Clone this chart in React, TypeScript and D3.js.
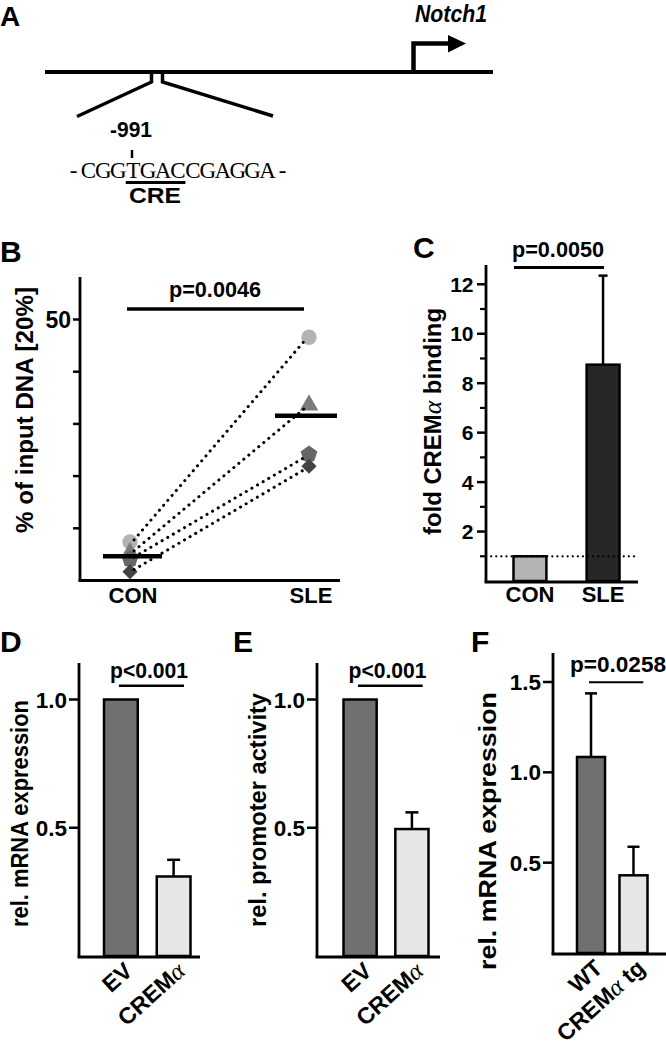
import React from "react";
import * as d3 from "d3";

const FONT = "'Liberation Sans', Arial, Helvetica, sans-serif";

// ---------- Panel A ----------
const geneName = "Notch1";
const siteLabel = "-991";
const sequence = "-CGGTGACCGAGGA-";
const creRange = [4, 8]; // TGAC
const creLabel = "CRE";

// ---------- Panel B ----------
const bGroups = ["CON", "SLE"];
const bShapes = ["circle", "triangle", "pentagon", "diamond"];
const bColors = ["#b3b3b3", "#7b7b7b", "#666666", "#434343"];
const bCon = [7.4, 5.3, 4.1, 1.7];
const bSle = [46.6, 33.6, 24.2, 21.9];
const bTicks = [10, 20, 30, 40, 50];
const bTickLabels = ["", "", "", "", "50"];
const bP = "p=0.0046";

// ---------- Panel C ----------
const cGroups = ["CON", "SLE"];
const cValues = [1.0, 8.75];
const cErrTop = [null, 12.35];
const cColors = ["#b4b4b4", "#272727"];
const cMajor = [2, 4, 6, 8, 10, 12];
const cMinor = [1, 3, 5, 7, 9, 11];
const cP = "p=0.0050";

// ---------- Panel D ----------
const dGroups = ["EV", "CREMα"];
const dValues = [1.0, 0.31];
const dErrTop = [null, 0.375];
// ---------- Panel E ----------
const eGroups = ["EV", "CREMα"];
const eValues = [1.0, 0.495];
const eErrTop = [null, 0.56];
// ---------- Panel F ----------
const fGroups = ["WT", "CREMα tg"];
const fValues = [1.085, 0.43];
const fErrTop = [1.437, 0.588];
const barColors = ["#707070", "#e6e6e6"];
const defTicks = [0.5, 1.0];
const defTickLabels = ["0.5", "1.0"];
const fTicks = [0.5, 1.0, 1.5];
const fTickLabels = ["0.5", "1.0", "1.5"];
const pSmall = "p<0.001";
const fP = "p=0.0258";

function withAlpha(s: string, size: number) {
  const i = s.indexOf("α");
  if (i < 0) return s;
  return (
    <>
      {s.slice(0, i)}
      <tspan fontFamily="'Liberation Serif', serif" fontStyle="italic" fontWeight="normal" fontSize={size * 1.08}>α</tspan>
      {s.slice(i + 1)}
    </>
  );
}

function YLabel({ x, y, text, len, size = 23.5 }: any) {
  return (
    <text
      transform={`translate(${x},${y}) rotate(-90)`}
      textAnchor="middle"
      fontSize={size}
      fontWeight="bold"
      textLength={len}
      lengthAdjust="spacingAndGlyphs"
    >
      {withAlpha(text, size)}
    </text>
  );
}

function BarPanel(props: any) {
  const {
    label, labelX, axisX, axisTop, zeroY, axisRight, yMax, scaleTop,
    groups, values, errTop, colors, ticks, tickLabels, tickSize = 22.5,
    barRange, padInner, yLabel, yLabelX, yLabelLen, yLabelY,
    pText, pX, pY, pLen, sigY, sigX0, sigX1, sigW, capW, xLabelSize = 23,
  } = props;
  const y = d3.scaleLinear().domain([0, yMax]).range([zeroY, scaleTop]);
  const x = d3.scaleBand().domain(groups).range(barRange).paddingInner(padInner).paddingOuter(0);
  const bw = x.bandwidth();
  return (
    <g>
      <text x={labelX} y={652} fontSize={30} fontWeight="bold">{label}</text>
      <YLabel x={yLabelX} y={yLabelY} text={yLabel} len={yLabelLen} />
      {groups.map((g: string, i: number) => {
        const x0 = x(g)!;
        const cx = x0 + bw / 2;
        const e = errTop[i];
        return (
          <g key={g}>
            {e != null && (
              <g stroke="#000" strokeWidth={2.5}>
                <line x1={cx} x2={cx} y1={y(values[i])} y2={y(e)} />
                <line x1={cx - capW / 2} x2={cx + capW / 2} y1={y(e)} y2={y(e)} />
              </g>
            )}
            <rect x={x0} y={y(values[i])} width={bw} height={zeroY - y(values[i])} fill={colors[i]} stroke="#000" strokeWidth={2.5} />
            <text
              transform={`translate(${cx + 13},${zeroY + 17}) rotate(-42)`}
              textAnchor="end"
              fontSize={xLabelSize}
              fontWeight="bold"
            >
              {withAlpha(g, xLabelSize)}
            </text>
          </g>
        );
      })}
      <line x1={axisX} x2={axisX} y1={axisTop} y2={zeroY + 1.5} stroke="#000" strokeWidth={2.8} />
      <line x1={axisX - 1.4} x2={axisRight} y1={zeroY + 1} y2={zeroY + 1} stroke="#000" strokeWidth={2.8} />
      {ticks.map((t: number, i: number) => (
        <g key={t}>
          <line x1={axisX - 10} x2={axisX} y1={y(t)} y2={y(t)} stroke="#000" strokeWidth={2.5} />
          <text x={axisX - 12} y={y(t)} dy="0.36em" textAnchor="end" fontSize={tickSize} fontWeight="bold">{tickLabels[i]}</text>
        </g>
      ))}
      <text x={pX} y={pY} textAnchor="middle" fontSize={22} fontWeight="bold" textLength={pLen} lengthAdjust="spacingAndGlyphs">{pText}</text>
      <line x1={sigX0} x2={sigX1} y1={sigY} y2={sigY} stroke="#000" strokeWidth={sigW} />
    </g>
  );
}

function PanelA() {
  const chars = sequence.split("");
  const seqX0 = 66, seqX1 = 290;
  const cx = d3.scaleLinear().domain([0, chars.length]).range([seqX0, seqX1]);
  return (
    <g>
      <text x={0} y={25.5} fontSize={28} fontWeight="bold">A</text>
      <text x={415} y={22} fontSize={24} fontWeight="bold" fontStyle="italic" textLength={72} lengthAdjust="spacingAndGlyphs">{geneName}</text>
      <line x1={45} x2={493} y1={72} y2={72} stroke="#000" strokeWidth={4} />
      <path d="M413.5,74 V43.5 H450" fill="none" stroke="#000" strokeWidth={4.5} />
      <path d="M448,35 L466,43.5 L448,52.5 Z" fill="#000" />
      <path d="M151.5,72 V82 L77,116.5" fill="none" stroke="#000" strokeWidth={3.5} strokeLinejoin="miter" />
      <path d="M162.5,72 V82 L273,116" fill="none" stroke="#000" strokeWidth={3.5} strokeLinejoin="miter" />
      <text x={131} y={137} textAnchor="middle" fontSize={22} fontWeight="bold" textLength={42} lengthAdjust="spacingAndGlyphs">{siteLabel}</text>
      <line x1={132} x2={132} y1={150} y2={158} stroke="#000" strokeWidth={2.5} />
      {chars.map((ch, i) => (
        <text key={i} x={cx(i + 0.5)} y={178} textAnchor="middle" fontSize={23}
          fontFamily="'Liberation Serif', 'Times New Roman', serif">{ch}</text>
      ))}
      <line x1={cx(creRange[0])} x2={cx(creRange[1])} y1={182.5} y2={182.5} stroke="#000" strokeWidth={3} />
      <text x={155} y={203} textAnchor="middle" fontSize={22} fontWeight="bold" textLength={52} lengthAdjust="spacingAndGlyphs">{creLabel}</text>
    </g>
  );
}

function pentagonPath(r: number) {
  const pts: [number, number][] = d3.range(5).map((i) => {
    const a = -Math.PI / 2 + (i * 2 * Math.PI) / 5;
    return [r * Math.cos(a), r * Math.sin(a)];
  });
  return d3.line()(pts)! + "Z";
}

function marker(shape: string) {
  if (shape === "circle") return d3.symbol(d3.symbolCircle, 185)()!;
  if (shape === "triangle") return d3.symbol(d3.symbolTriangle, 150)()!;
  if (shape === "diamond") return d3.symbol(d3.symbolSquare, 115)()!;
  return pentagonPath(8.8);
}

function PanelB() {
  const y = d3.scaleLinear().domain([0, 50]).range([580.5, 319.5]);
  const x = d3.scalePoint().domain(bGroups).range([130, 308]);
  const axisX = 80;
  const mean = (a: number[]) => d3.mean(a)!;
  return (
    <g>
      <text x={0} y={262} fontSize={30} fontWeight="bold">B</text>
      <YLabel x={33} y={410} text="% of input DNA [20%]" len={246} />
      <line x1={axisX} x2={axisX} y1={277} y2={581.5} stroke="#000" strokeWidth={2.8} />
      <line x1={axisX - 1.4} x2={340} y1={580.5} y2={580.5} stroke="#000" strokeWidth={2.8} />
      {bTicks.map((t, i) => (
        <g key={t}>
          <line x1={axisX - 7} x2={axisX} y1={y(t)} y2={y(t)} stroke="#000" strokeWidth={2.5} />
          <text x={71} y={y(t)} dy="0.36em" textAnchor="end" fontSize={23} fontWeight="bold">{bTickLabels[i]}</text>
        </g>
      ))}
      {bGroups.map((g) => (
        <text key={g} x={x(g)! + 3} y={603} textAnchor="middle" fontSize={22} fontWeight="bold">{g}</text>
      ))}
      {bShapes.map((s, i) => (
        <g key={s}>
          <path d={marker(s)} transform={`translate(${x("CON")},${y(bCon[i])})${s === "diamond" ? " rotate(45)" : ""}`} fill={bColors[i]} />
          <path d={marker(s)} transform={`translate(${x("SLE")! + 1},${y(bSle[i])})${s === "diamond" ? " rotate(45)" : ""}`} fill={bColors[i]} />
        </g>
      ))}
      {bShapes.map((s, i) => (
        <line key={s} x1={x("CON")! + 4} y1={y(bCon[i]) - 2} x2={x("SLE")! - 3} y2={y(bSle[i]) + 3}
          stroke="#000" strokeWidth={3} strokeLinecap="round" strokeDasharray="0.1 6.4" />
      ))}
      <line x1={103} x2={162} y1={y(mean(bCon))} y2={y(mean(bCon))} stroke="#000" strokeWidth={4.5} />
      <line x1={275} x2={337} y1={y(mean(bSle))} y2={y(mean(bSle))} stroke="#000" strokeWidth={4.5} />
      <text x={215} y={297} textAnchor="middle" fontSize={22} fontWeight="bold" textLength={92} lengthAdjust="spacingAndGlyphs">{bP}</text>
      <line x1={127} x2={304} y1={309} y2={309} stroke="#000" strokeWidth={3.4} />
    </g>
  );
}

function PanelC() {
  const zeroY = 581;
  const y = d3.scaleLinear().domain([0, 12]).range([zeroY, 284.3]);
  const x = d3.scaleBand().domain(cGroups).range([513.5, 619.5]).paddingInner(0.55).paddingOuter(0);
  const bw = x.bandwidth();
  const axisX = 486;
  return (
    <g>
      <text x={413} y={258} fontSize={30} fontWeight="bold">C</text>
      <YLabel x={441} y={421.5} text="fold CREMα binding" len={227} />
      {cGroups.map((g, i) => {
        const x0 = x(g)!;
        const cx = x0 + bw / 2;
        const e = cErrTop[i];
        return (
          <g key={g}>
            {e != null && (
              <g stroke="#000" strokeWidth={2.5}>
                <line x1={cx} x2={cx} y1={y(cValues[i])} y2={y(e)} />
                <line x1={cx - 4.5} x2={cx + 4.5} y1={y(e)} y2={y(e)} />
              </g>
            )}
            <rect x={x0} y={y(cValues[i])} width={bw} height={zeroY - y(cValues[i])} fill={cColors[i]} stroke="#000" strokeWidth={2.5} />
            <text x={cx} y={602} textAnchor="middle" fontSize={22} fontWeight="bold">{g}</text>
          </g>
        );
      })}
      <line x1={axisX} x2={638} y1={y(1)} y2={y(1)} stroke="#000" strokeWidth={2.2} strokeLinecap="round" strokeDasharray="0.1 5" />
      <line x1={axisX} x2={axisX} y1={265} y2={zeroY + 1.5} stroke="#000" strokeWidth={2.8} />
      <line x1={axisX - 1.4} x2={638} y1={zeroY + 1} y2={zeroY + 1} stroke="#000" strokeWidth={2.8} />
      {cMajor.map((t) => (
        <g key={t}>
          <line x1={axisX - 9} x2={axisX} y1={y(t)} y2={y(t)} stroke="#000" strokeWidth={2.5} />
          <text x={473.5} y={y(t)} dy="0.36em" textAnchor="end" fontSize={21} fontWeight="bold">{t}</text>
        </g>
      ))}
      {cMinor.map((t) => (
        <line key={t} x1={axisX - 6} x2={axisX} y1={y(t)} y2={y(t)} stroke="#000" strokeWidth={2.2} />
      ))}
      <text x={558} y={257} textAnchor="middle" fontSize={22} fontWeight="bold" textLength={92} lengthAdjust="spacingAndGlyphs">{cP}</text>
      <line x1={514} x2={604} y1={267.5} y2={267.5} stroke="#000" strokeWidth={3} />
    </g>
  );
}

export default function App() {
  return (
    <svg
      width={666}
      height={1050}
      viewBox="0 0 666 1050"
      style={{ position: "absolute", left: 0, top: 0, background: "#fff" }}
      fontFamily={FONT}
    >
      <rect width={666} height={1050} fill="#fff" />
      <PanelA />
      <PanelB />
      <PanelC />
      <BarPanel
        label="D" labelX={0} axisX={79} axisTop={663} zeroY={956} axisRight={200}
        yMax={1} scaleTop={699.5} groups={dGroups} values={dValues} errTop={dErrTop}
        colors={barColors} ticks={defTicks} tickLabels={defTickLabels}
        barRange={[104, 190.5]} padInner={0.36}
        yLabel="rel. mRNA expression" yLabelX={28} yLabelY={813.5} yLabelLen={227}
        pText={pSmall} pX={149} pY={678} pLen={78} sigY={685.7} sigX0={119} sigX1={184} sigW={2.5} capW={13}
      />
      <BarPanel
        label="E" labelX={233} axisX={317} axisTop={663} zeroY={956} axisRight={440}
        yMax={1} scaleTop={699.5} groups={eGroups} values={eValues} errTop={eErrTop}
        colors={barColors} ticks={defTicks} tickLabels={defTickLabels}
        barRange={[343.5, 428.5]} padInner={0.36}
        yLabel="rel. promoter activity" yLabelX={266} yLabelY={810} yLabelLen={234}
        pText={pSmall} pX={387.5} pY={678} pLen={78} sigY={685.7} sigX0={358} sigX1={422.7} sigW={2.5} capW={13}
      />
      <BarPanel
        label="F" labelX={471} axisX={553} axisTop={653} zeroY={953} axisRight={666}
        yMax={1.5} scaleTop={682} groups={fGroups} values={fValues} errTop={fErrTop}
        colors={barColors} ticks={fTicks} tickLabels={fTickLabels} tickSize={22.5}
        barRange={[577, 647.5]} padInner={0.34}
        yLabel="rel. mRNA expression" yLabelX={496} yLabelY={831} yLabelLen={278}
        pText={fP} pX={618} pY={672} pLen={96} sigY={682.3} sigX0={589} sigX1={643.3} sigW={2} capW={12}
      />
    </svg>
  );
}
